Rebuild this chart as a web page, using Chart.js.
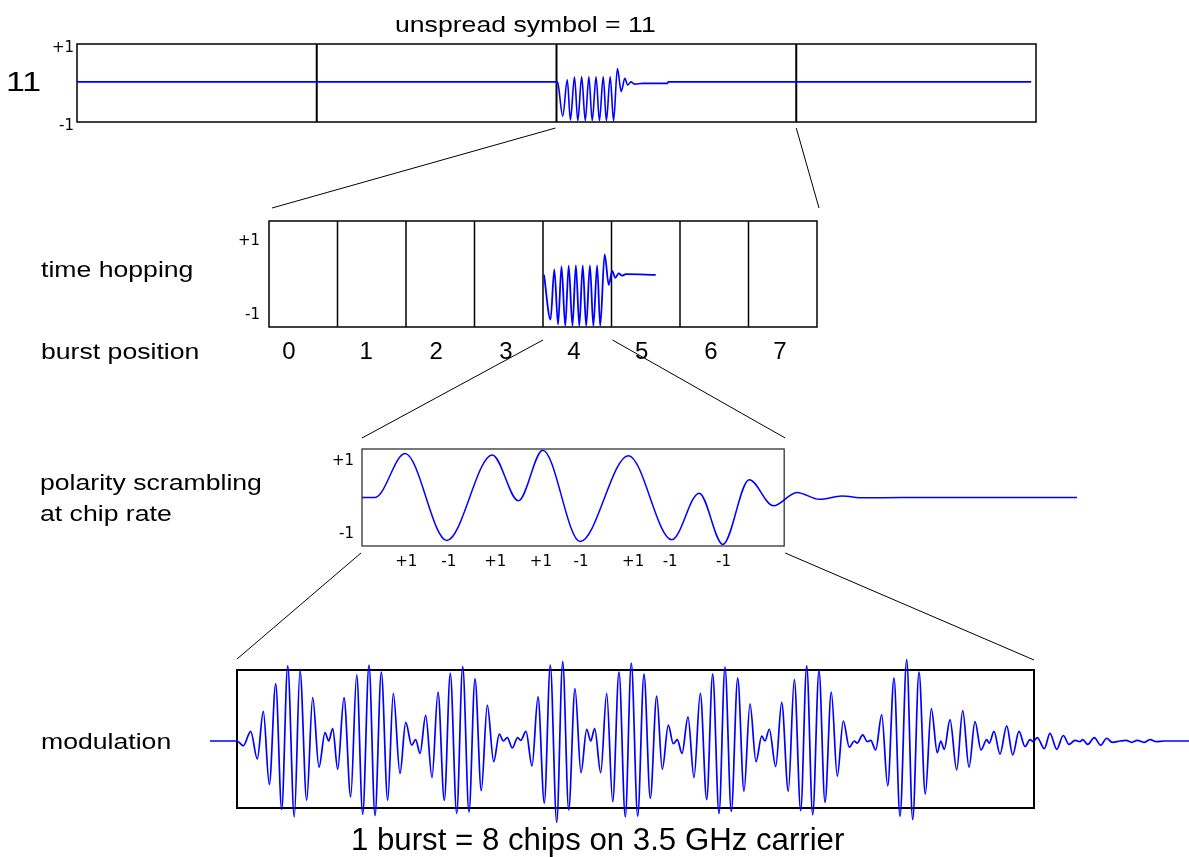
<!DOCTYPE html>
<html lang="en">
<head>
  <meta charset="UTF-8" />
  <title>Time hopping UWB burst</title>
  <script src="https://cdn.jsdelivr.net/npm/chart.js"></script>
  <style>
    html, body { margin: 0; padding: 0; background: #fff; }
    body { width: 1189px; height: 857px; position: relative; overflow: hidden;
           font-family: 'Liberation Sans', Arial, sans-serif; }
    canvas { position: absolute; }
    .lbl { position: absolute; font-size: 22px; line-height: 22px; white-space: nowrap; color: #000;
           transform: scaleX(1.21); transform-origin: 0 0; }
  </style>
</head>
<body>
  <canvas id="links" width="1189" height="857" style="left:0;top:0"></canvas>
  <canvas id="symbolChart" width="1009" height="106" style="left:37px;top:32px"></canvas>
  <canvas id="hopChart" width="598" height="164" style="left:229px;top:203px"></canvas>
  <canvas id="chipChart" width="765" height="144" style="left:322px;top:432px"></canvas>
  <canvas id="modChart" width="979" height="200" style="left:210px;top:640px"></canvas>

  <div class="lbl" style="left:395px;top:14px">unspread symbol = 11</div>
  <div class="lbl" style="left:6px;top:68px;font-size:28px;line-height:28px">11</div>
  <div class="lbl" style="left:41px;top:259px">time hopping</div>
  <div class="lbl" style="left:41px;top:341px">burst position</div>
  <div class="lbl" style="left:40px;top:472px">polarity scrambling</div>
  <div class="lbl" style="left:40px;top:503px">at chip rate</div>
  <div class="lbl" style="left:41px;top:731px">modulation</div>
  <div class="lbl" style="left:351px;top:823px;font-size:32px;line-height:32px;transform:scaleX(0.975)">1 burst = 8 chips on 3.5 GHz carrier</div>

  <script>
    // ---- values ----

    // top row: unspread symbol, x in symbol slots (0..4), y in +-1 units
    const symbolSlots = [1, 2, 3];
    const levelTicks = [-1, 1];
    const levelLabels = ['-1', '+1'];
    const symbolT = [0, 2.0, 2.005, 2.026, 2.045, 2.058, 2.075, 2.089, 2.105, 2.12, 2.135, 2.149, 2.165, 2.179,
                     2.195, 2.208, 2.224, 2.238, 2.254, 2.27, 2.285, 2.297, 2.311, 2.325, 2.36, 2.463, 2.466, 3.98];
    const symbolV = [0.03, 0.03, 0.01, -0.85, 0.08, -0.95, 0.15, -0.97, 0.16, -0.97, 0.16, -0.97, 0.16, -0.97,
                     0.16, -0.97, 0.16, -0.97, 0.37, -0.22, 0.12, -0.05, 0.03, -0.03, -0.01, -0.01, 0.03, 0.03];

    // time hopping: 8 burst positions
    const burstCells = [1, 2, 3, 4, 5, 6, 7];
    const burstTickPos = [0.29, 1.42, 2.44, 3.46, 4.45, 5.44, 6.45, 7.46];
    const burstLabels = ['0', '1', '2', '3', '4', '5', '6', '7'];
    const hopT = [4.015, 4.11, 4.165, 4.22, 4.27, 4.325, 4.375, 4.43, 4.48, 4.53, 4.58, 4.63, 4.685, 4.735,
                  4.79, 4.835, 4.90, 4.96, 5.01, 5.055, 5.105, 5.155, 5.21, 5.645];
    const hopV = [0.09, -1.13, 0.24, -1.26, 0.32, -1.30, 0.34, -1.30, 0.35, -1.30, 0.35, -1.30, 0.35, -1.30,
                  0.35, -1.30, 0.65, -0.18, 0.20, 0.01, 0.13, 0.07, 0.11, 0.09];

    // polarity scrambling at chip rate (x in time units, burst window 0..422)
    const chipTickPos = [44.3, 86.7, 133.3, 178.8, 219, 271, 308, 361.3];
    const chipLabels = ['+1', '-1', '+1', '+1', '-1', '+1', '-1', '-1'];
    const chipT = [0, 13, 43, 84.7, 130.3, 156.3, 180.7, 218, 266.3, 309.7, 337, 360.7, 387, 411.3,
                   434.7, 457.3, 479.7, 501.3, 540, 714.7];
    const chipV = [0, 0, 1.21, -1.18, 1.17, -0.09, 1.30, -1.21, 1.15, -1.16, 0.12, -1.29, 0.49, -0.23,
                   0.14, -0.05, 0.04, -0.01, 0, 0];

    // modulated carrier, extrema of each half cycle (burst window 0..797)
    const modT = [
      -27, 0, 6.3, 13.7, 20.3, 26.3, 32.3, 38.7, 44.7, 50.7, 57.3, 63, 69.7, 75.7, 82, 88, 91.7, 95.7, 100.7,
      107, 113.7, 119.7, 125.7, 132, 138, 144.3, 150.7, 156.3, 163, 168.7, 174.7, 178.7, 183, 188.7, 195, 201,
      207.3, 213.3, 219.7,
      225.7, 232, 238, 244.3, 250.3, 256.7, 262.3, 266.3, 270.3, 275.3, 280.7, 283.7, 289, 295, 301, 307.3,
      313.3, 319.7, 325.7, 331.7, 338, 344, 349.7, 353.7, 357.7, 363.7, 369.7, 375.7, 382, 388.3, 394.3, 400.7,
      407, 413.3, 419.7, 425.3, 431.3, 436.3, 440.3, 445, 451, 457, 463.3, 469.7,
      475.7, 482, 488, 494.3, 500.7, 507, 513, 519, 524.7, 528, 532.3, 538.7, 544.7, 551.3, 557.3, 563.7,
      569.7, 575.7, 582, 588, 594.3, 600.3, 606.3, 612.3, 617.3, 620.3, 625.7, 630.3, 633.7, 638.7, 644.7,
      650.7, 657, 663, 669.7, 675.7, 682, 688.3, 694.3, 700.3, 703.7, 707.3, 713, 719.7,
      725.7, 732, 738, 744, 749.7, 752.3, 757, 763, 769.7, 775.7, 782, 788, 793, 796.3, 800.3, 807.3, 813,
      819.7, 826.3, 832, 838, 843, 845.7, 850.7, 857.3, 863.7, 869.7, 875.3, 883, 889, 894.7, 900.3, 907, 913,
      919.7, 926.3, 952
    ];
    const modV = [
      0, 0, -0.07, 0.14, -0.26, 0.43, -0.63, 0.83, -0.99, 1.09, -1.10, 1.02, -0.86, 0.63, -0.38, 0.12, 0.0, 0.18,
      -0.41, 0.63, -0.81, 0.96, -1.06, 1.10, -1.08, 1.00, -0.86, 0.69, -0.47, 0.27, -0.06, 0.02, -0.18, 0.37,
      -0.53, 0.71, -0.86, 0.98, -1.05,
      1.08, -1.03, 0.90, -0.72, 0.52, -0.30, 0.10, 0.0, 0.05, -0.10, 0.05, 0.01, 0.14, -0.36, 0.64, -0.90, 1.10,
      -1.18, 1.15, -1.00, 0.76, -0.46, 0.17, 0.0, 0.18, -0.46, 0.69, -0.88, 1.00, -1.10, 1.13, -1.09, 0.97,
      -0.83, 0.65, -0.41, 0.23, -0.04, 0.02, -0.18, 0.35, -0.53, 0.69, -0.85,
      0.97, -1.05, 1.07, -1.02, 0.91, -0.73, 0.54, -0.30, 0.07, 0.0, 0.17, -0.37, 0.56, -0.73, 0.89, -1.01,
      1.09, -1.07, 1.02, -0.89, 0.71, -0.51, 0.29, -0.09, 0.0, -0.03, 0.09, -0.01, 0.01, -0.13, 0.38, -0.65,
      0.91, -1.09, 1.18, -1.14, 1.00, -0.77, 0.47, -0.17, 0.0, -0.12, 0.31, -0.42,
      0.44, -0.38, 0.28, -0.13, 0.02, -0.03, 0.14, -0.19, 0.22, -0.20, 0.14, -0.08, 0.02, -0.01, 0.05, -0.11,
      0.11, -0.12, 0.08, -0.05, 0.01, -0.01, 0.02, -0.05, 0.05, -0.06, 0.04, -0.02, 0.0, 0.01, -0.02, 0.01,
      -0.02, 0.02, -0.01, 0.0, 0.0
    ];

    // ---- drawing ----
    const BLUE = '#0000ff';
    const tickFont = { family: "'DejaVu Sans', sans-serif", size: 15 };

    // box + slot dividers, drawn under the waveform
    const framePlugin = {
      id: 'frame',
      beforeDatasetsDraw(chart, args, opts) {
        const { ctx, chartArea: a, scales: { x } } = chart;
        const l = x.getPixelForValue(opts.from), r = x.getPixelForValue(opts.to);
        ctx.save();
        ctx.strokeStyle = opts.color || '#000';
        ctx.lineWidth = opts.width;
        ctx.strokeRect(l, a.top, r - l, a.bottom - a.top);
        ctx.lineWidth = opts.dividerWidth || opts.width;
        (opts.dividers || []).forEach(v => {
          const px = x.getPixelForValue(v);
          ctx.beginPath();
          ctx.moveTo(px, a.top);
          ctx.lineTo(px, a.bottom);
          ctx.stroke();
        });
        ctx.restore();
      }
    };

    function fixedTicks(values, labels, extra) {
      return Object.assign({
        grid: { display: false, drawTicks: false },
        border: { display: false },
        afterBuildTicks: s => { s.ticks = values.map(v => ({ value: v })); },
        ticks: { autoSkip: false, maxRotation: 0, color: '#000', font: tickFont,
                 callback: (v, i) => labels[i] }
      }, extra);
    }

    function waveChart(id, t, v, cfg) {
      return new Chart(document.getElementById(id), {
        type: 'line',
        data: {
          datasets: [{
            data: t.map((x, i) => ({ x: x, y: v[i] })),
            borderColor: BLUE,
            borderWidth: cfg.lineWidth || 1.5,
            pointRadius: 0,
            cubicInterpolationMode: 'monotone',
            capBezierPoints: false,
            clip: false,
            fill: false
          }]
        },
        options: {
          responsive: false,
          animation: false,
          devicePixelRatio: 1,
          layout: { padding: cfg.padding },
          plugins: { legend: { display: false }, tooltip: { enabled: false }, frame: cfg.frame },
          scales: { x: cfg.x, y: cfg.y }
        },
        plugins: [framePlugin]
      });
    }

    // unspread symbol
    const symbolChart = waveChart('symbolChart', symbolT, symbolV, {
      lineWidth: 1.6,
      padding: { left: 0, top: 10, right: 10, bottom: 16 },
      frame: { from: 0, to: 4, dividers: symbolSlots, width: 1.5, dividerWidth: 2 },
      x: { type: 'linear', min: 0, max: 4, display: false },
      y: fixedTicks(levelTicks, levelLabels, {
        min: -1, max: 1,
        afterFit: s => { s.width = 40; }
      })
    });
    symbolChart.options.scales.y.ticks.padding = 3;
    symbolChart.options.scales.y.ticks.labelOffset = 4.5;
    symbolChart.update();

    // time hopping
    const hopChart = waveChart('hopChart', hopT, hopV, {
      lineWidth: 1.8,
      padding: { left: 0, top: 10, right: 10, bottom: 0 },
      frame: { from: 0, to: 8, dividers: burstCells, width: 1.5, dividerWidth: 1.5 },
      x: fixedTicks(burstTickPos, burstLabels, {
        type: 'linear', min: 0, max: 8,
        afterFit: s => { s.height = 40; }
      }),
      y: fixedTicks(levelTicks, levelLabels, {
        min: -1.329, max: 1.557,
        afterFit: s => { s.width = 40; }
      })
    });
    hopChart.options.scales.x.ticks.font = { family: "'Liberation Sans', Arial, sans-serif", size: 24 };
    hopChart.options.scales.x.ticks.padding = 11;
    hopChart.options.scales.y.ticks.padding = 9;
    hopChart.update();

    // polarity scrambling
    const chipChart = waveChart('chipChart', chipT, chipV, {
      lineWidth: 1.5,
      padding: { left: 0, top: 10, right: 10, bottom: 0 },
      frame: { from: 0, to: 422, width: 1.2, color: '#222' },
      x: fixedTicks(chipTickPos, chipLabels, {
        type: 'linear', min: 0, max: 714.7,
        afterFit: s => { s.height = 30; }
      }),
      y: fixedTicks(levelTicks, levelLabels, {
        min: -1.333, max: 1.333,
        afterFit: s => { s.width = 40; }
      })
    });
    chipChart.options.scales.x.ticks.padding = 7;
    chipChart.options.scales.y.ticks.padding = 8;
    chipChart.update();

    // modulation on the carrier
    const modChart = waveChart('modChart', modT, modV, {
      lineWidth: 1.7,
      padding: { left: 0, top: 30, right: 0, bottom: 32 },
      frame: { from: 0, to: 797, width: 2 },
      x: { type: 'linear', min: -27, max: 952, display: false },
      y: { min: -0.971, max: 1.029, display: false }
    });

    // zoom connector lines between the panels
    function anchor(chart, xv, edge, dx, dy) {
      const a = chart.chartArea;
      return [chart.canvas.offsetLeft + chart.scales.x.getPixelForValue(xv) + dx,
              chart.canvas.offsetTop + (edge === 'top' ? a.top : a.bottom) + dy];
    }
    const links = [
      [anchor(symbolChart, 2, 'bottom', -1, 6), anchor(hopChart, 0, 'top', 3, -13)],
      [anchor(symbolChart, 3, 'bottom', 0, 6), anchor(hopChart, 8, 'top', 2, -13)],
      [anchor(hopChart, 4, 'bottom', 0, 13), anchor(chipChart, 0, 'top', 0, -11)],
      [anchor(hopChart, 5, 'bottom', 1, 13), anchor(chipChart, 422, 'top', 1, -11)],
      [anchor(chipChart, 0, 'bottom', -1, 7), anchor(modChart, 0, 'top', 0, -11)],
      [anchor(chipChart, 422, 'bottom', 1, 7), anchor(modChart, 797, 'top', 0, -10)]
    ];
    const lctx = document.getElementById('links').getContext('2d');
    lctx.strokeStyle = '#000';
    lctx.lineWidth = 1;
    links.forEach(([p, q]) => {
      lctx.beginPath();
      lctx.moveTo(p[0], p[1]);
      lctx.lineTo(q[0], q[1]);
      lctx.stroke();
    });
  </script>
</body>
</html>
